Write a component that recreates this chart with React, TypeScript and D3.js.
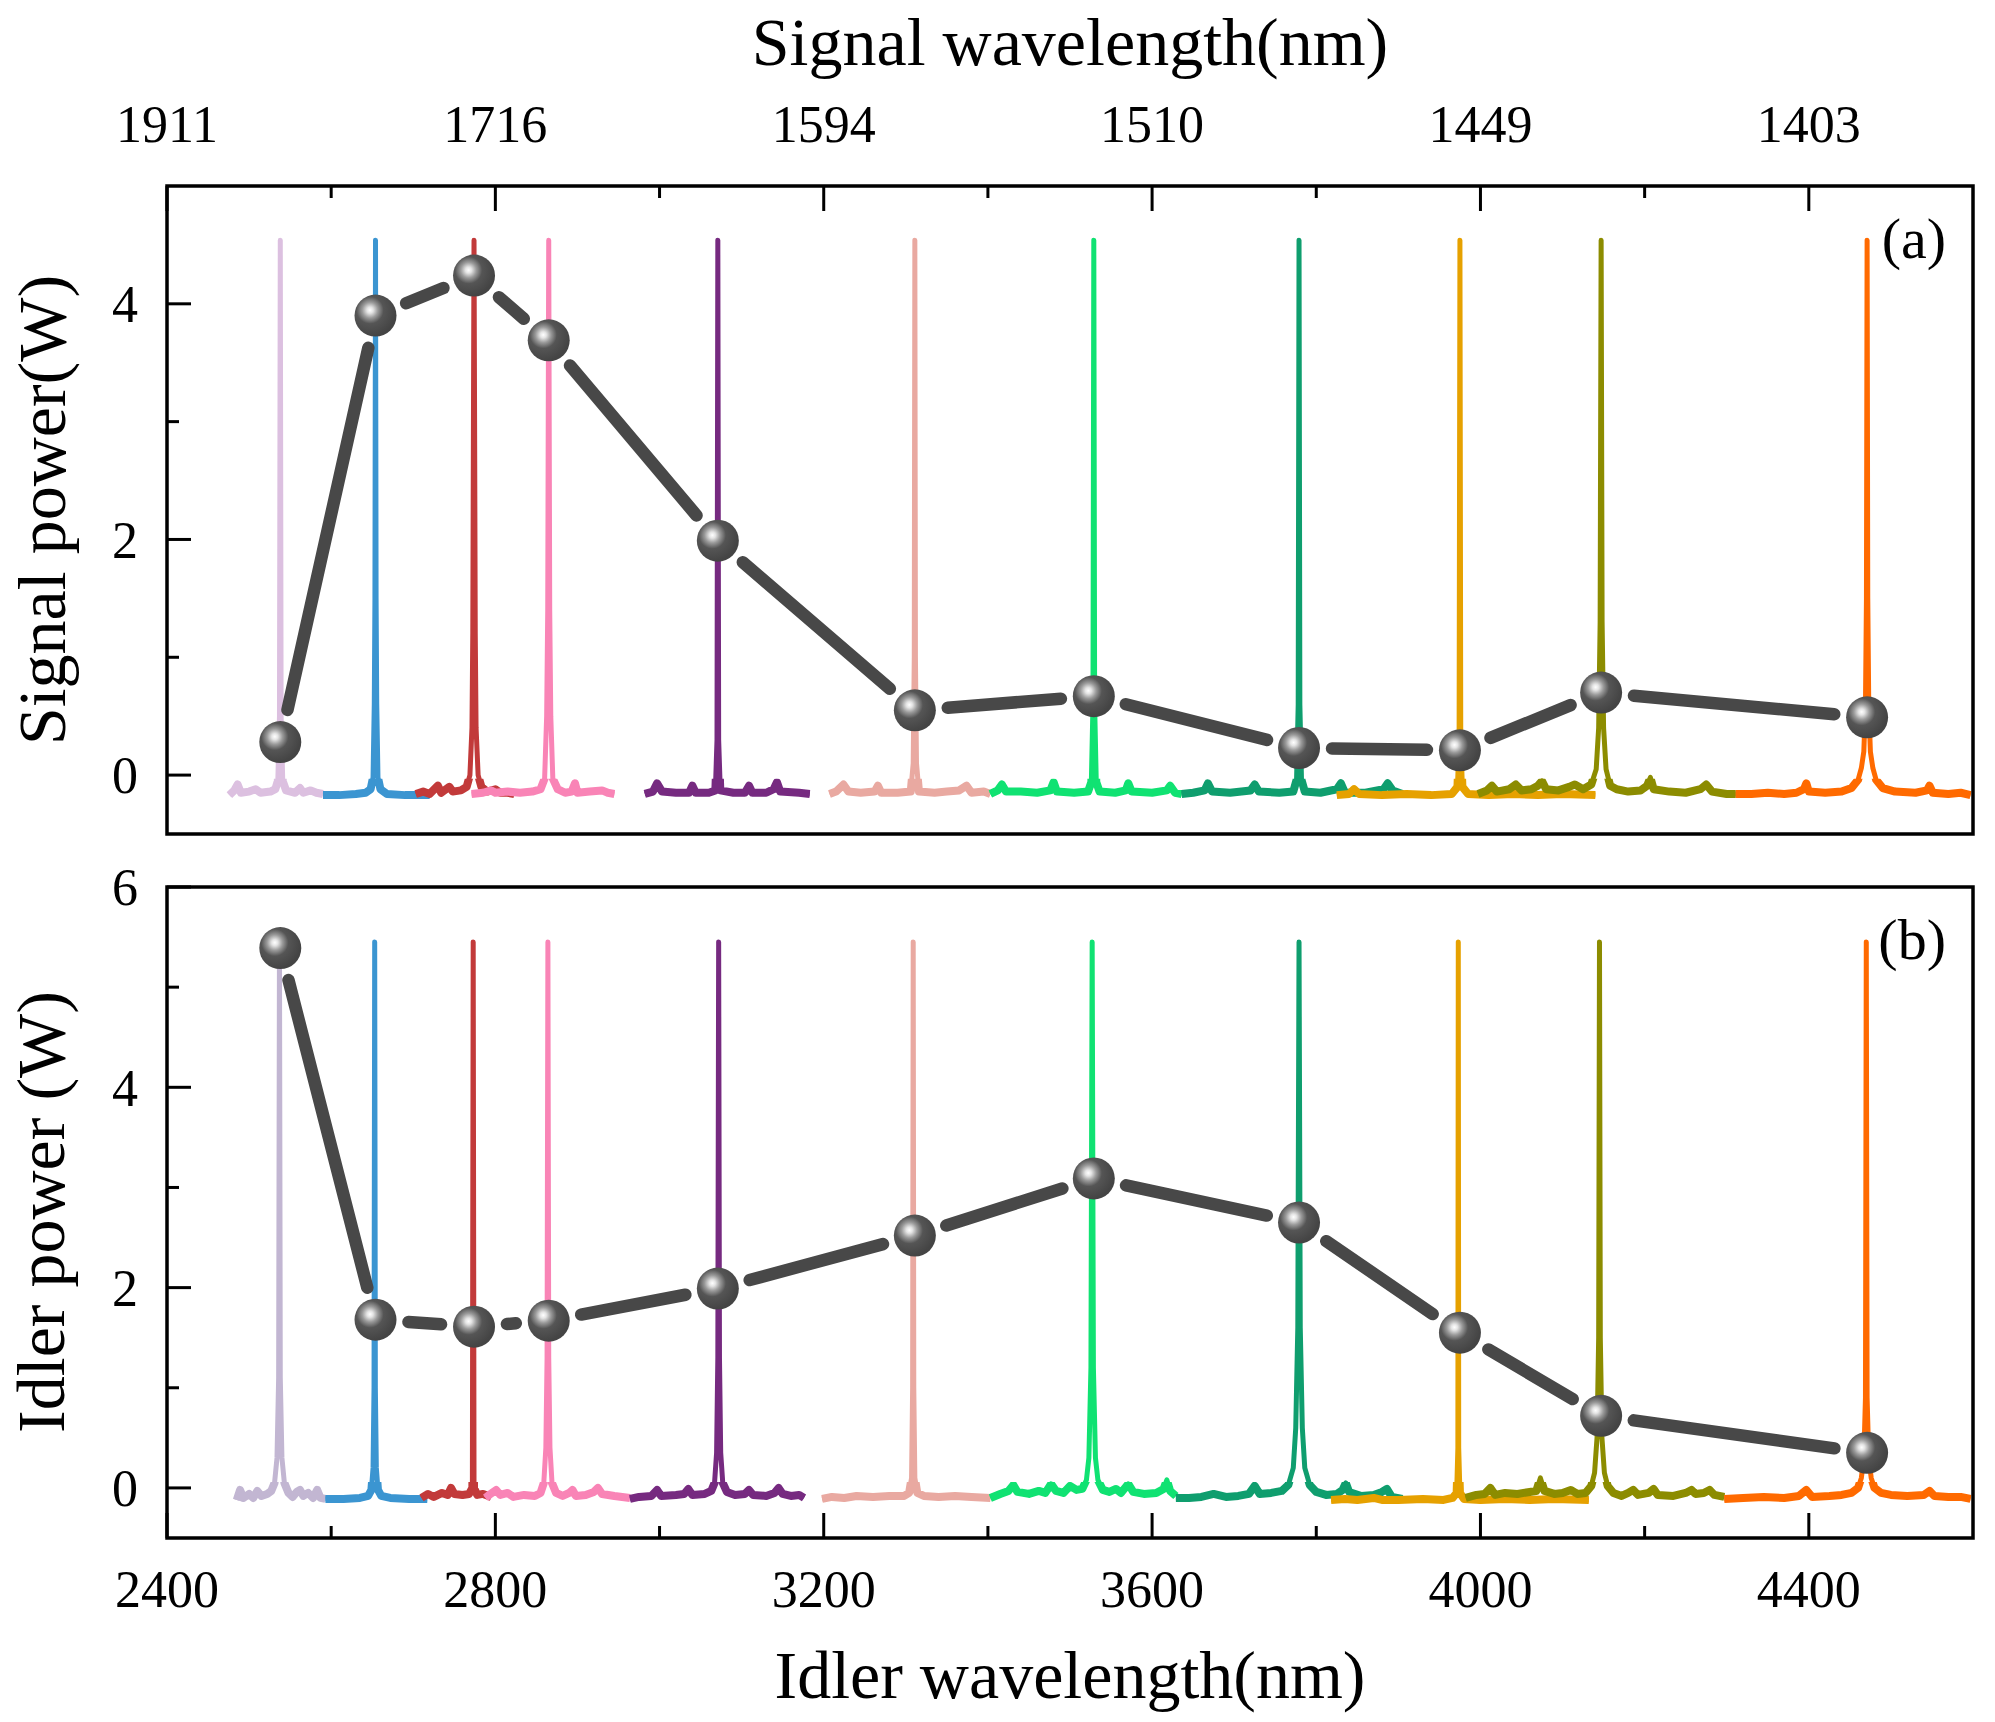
import { useEffect } from 'react'
import * as d3 from 'd3'

const W = 1995
const H = 1722

// idler wavelength of each tuning point (nm), shared by both panels
const idlerNm = [2538, 2654, 2774, 2865, 3071, 3311, 3529, 3779, 3975, 4147, 4471]
const signalPower = [0.28, 3.9, 4.24, 3.69, 1.99, 0.55, 0.67, 0.23, 0.21, 0.7, 0.49]
const idlerPower = [5.39, 1.68, 1.61, 1.67, 1.99, 2.52, 3.09, 2.65, 1.55, 0.72, 0.35]

const majorXTicks = [2400, 2800, 3200, 3600, 4000, 4400]
const minorXTicks = [2600, 3000, 3400, 3800, 4200]
const signalTickLabels = ['1911', '1716', '1594', '1510', '1449', '1403']

const topMajorY = [0, 2, 4]
const topMinorY = [1, 3]
const botMajorY = [0, 2, 4, 6]
const botMinorY = [1, 3, 5]

const colorsTop = ['#dcc0e0', '#3b95d1', '#c23a3a', '#f984b6', '#762a80', '#e9a9a1', '#10e272', '#0f9e6e', '#e6a100', '#8c8c00', '#ff6a00']
const colorsBottom = ['#c2b6d2', '#3b95d1', '#c23a3a', '#f984b6', '#762a80', '#e9a9a1', '#10e272', '#0f9e6e', '#e6a100', '#8c8c00', '#ff6a00']

type Pt = [number, number]

// ---- (a) normalised signal spectra, offset below zero ----
const sA1: Pt[] = [[2476,-0.17],[2482,-0.13],[2486,-0.08],[2490,-0.15],[2500,-0.14],[2508,-0.12],[2514,-0.15],[2526,-0.14],[2532,-0.12],[2535,-0.05],[2537,0.5],[2538,4.54],[2539,0.5],[2541,-0.05],[2545,-0.13],[2556,-0.15],[2562,-0.11],[2566,-0.15],[2575,-0.13],[2582,-0.15],[2590,-0.16]]
const sA2: Pt[] = [[2590,-0.17],[2610,-0.17],[2630,-0.16],[2642,-0.15],[2648,-0.12],[2651,-0.02],[2652.5,0.6],[2653.3,1.5],[2654,4.54],[2654.7,1.5],[2655.5,0.6],[2657,-0.02],[2660,-0.12],[2668,-0.16],[2690,-0.17],[2720,-0.17]]
const sA3: Pt[] = [[2703,-0.16],[2712,-0.14],[2720,-0.16],[2730,-0.09],[2734,-0.15],[2744,-0.1],[2748,-0.14],[2758,-0.13],[2765,-0.1],[2769,0.0],[2771.5,0.4],[2772.5,1.2],[2774,4.54],[2775.5,1.2],[2776.5,0.4],[2779,0.0],[2783,-0.1],[2790,-0.14],[2800,-0.12],[2806,-0.15],[2815,-0.15],[2823,-0.16]]
const sA4: Pt[] = [[2771,-0.16],[2785,-0.15],[2795,-0.13],[2800,-0.15],[2815,-0.14],[2830,-0.15],[2845,-0.14],[2855,-0.12],[2860,-0.03],[2862.5,0.5],[2863.8,1.4],[2865,4.54],[2866.2,1.4],[2867.5,0.5],[2870,-0.03],[2876,-0.12],[2885,-0.15],[2893,-0.14],[2897,-0.07],[2900,-0.15],[2915,-0.14],[2930,-0.13],[2937,-0.15],[2945,-0.16]]
const sA5: Pt[] = [[2982,-0.16],[2992,-0.14],[2997,-0.07],[3003,-0.14],[3020,-0.15],[3036,-0.15],[3040,-0.09],[3044,-0.15],[3060,-0.15],[3068,-0.13],[3070,0.3],[3071,4.54],[3072,0.3],[3074,-0.13],[3090,-0.15],[3104,-0.15],[3109,-0.09],[3113,-0.15],[3130,-0.15],[3139,-0.12],[3143,-0.06],[3147,-0.14],[3170,-0.15],[3183,-0.16]]
const sA6: Pt[] = [[3207,-0.16],[3215,-0.14],[3224,-0.08],[3230,-0.14],[3245,-0.15],[3262,-0.14],[3266,-0.09],[3270,-0.15],[3290,-0.15],[3306,-0.14],[3309,0.1],[3310.3,1.0],[3311,4.54],[3311.7,1.0],[3313,0.1],[3316,-0.14],[3335,-0.15],[3350,-0.14],[3365,-0.13],[3374,-0.09],[3380,-0.15],[3395,-0.14],[3403,-0.16]]
const sA7: Pt[] = [[3403,-0.16],[3412,-0.13],[3417,-0.08],[3422,-0.14],[3440,-0.14],[3460,-0.15],[3476,-0.13],[3480,-0.06],[3484,-0.14],[3505,-0.15],[3522,-0.14],[3526,-0.06],[3528,0.6],[3529,4.54],[3530,0.6],[3532,-0.06],[3536,-0.14],[3555,-0.15],[3568,-0.13],[3571,-0.07],[3575,-0.14],[3600,-0.15],[3618,-0.13],[3622,-0.09],[3628,-0.15],[3636,-0.16]]
const sA8: Pt[] = [[3636,-0.16],[3650,-0.15],[3664,-0.13],[3668,-0.07],[3673,-0.14],[3695,-0.15],[3720,-0.13],[3725,-0.08],[3730,-0.14],[3755,-0.15],[3772,-0.14],[3776,-0.04],[3778,0.6],[3779,4.54],[3780,0.6],[3782,-0.04],[3786,-0.14],[3805,-0.15],[3825,-0.12],[3830,-0.07],[3835,-0.15],[3860,-0.15],[3882,-0.12],[3887,-0.07],[3893,-0.13],[3905,-0.16]]
const sA9: Pt[] = [[3825,-0.17],[3840,-0.16],[3846,-0.12],[3852,-0.16],[3880,-0.17],[3910,-0.16],[3940,-0.17],[3965,-0.16],[3972,-0.1],[3974,0.3],[3975,4.54],[3976,0.3],[3978,-0.1],[3985,-0.16],[4010,-0.17],[4040,-0.16],[4070,-0.17],[4100,-0.16],[4140,-0.17]]
const sA10: Pt[] = [[3997,-0.16],[4008,-0.13],[4014,-0.09],[4020,-0.14],[4035,-0.12],[4043,-0.08],[4050,-0.13],[4062,-0.12],[4070,-0.09],[4075,-0.05],[4080,-0.12],[4095,-0.13],[4108,-0.1],[4115,-0.08],[4125,-0.12],[4135,-0.08],[4141,0.05],[4144,0.4],[4145.8,1.3],[4147,4.54],[4148.2,1.3],[4150,0.4],[4153,0.05],[4158,-0.09],[4166,-0.12],[4180,-0.14],[4195,-0.13],[4203,-0.09],[4207,-0.02],[4211,-0.12],[4230,-0.14],[4250,-0.15],[4268,-0.12],[4275,-0.08],[4282,-0.14],[4300,-0.16],[4311,-0.16]]
const sA11: Pt[] = [[4311,-0.16],[4330,-0.16],[4350,-0.15],[4370,-0.16],[4385,-0.15],[4394,-0.12],[4397,-0.07],[4400,-0.14],[4420,-0.15],[4440,-0.14],[4452,-0.11],[4460,-0.04],[4464,0.06],[4467,0.2],[4469,0.6],[4470.2,1.5],[4471,4.54],[4471.8,1.5],[4473,0.6],[4475,0.2],[4478,0.06],[4482,-0.04],[4490,-0.11],[4505,-0.14],[4530,-0.15],[4544,-0.13],[4547,-0.09],[4551,-0.15],[4570,-0.16],[4585,-0.15],[4597,-0.17]]

// ---- (b) normalised idler spectra ----
const sB1: Pt[] = [[2485,-0.12],[2489,-0.02],[2493,-0.1],[2500,-0.06],[2505,-0.1],[2510,-0.03],[2515,-0.08],[2522,-0.06],[2527,-0.03],[2531,0.05],[2534,0.3],[2536,1.1],[2537,5.45],[2538,1.1],[2540,0.3],[2543,0.05],[2548,-0.05],[2553,-0.09],[2558,-0.04],[2562,-0.02],[2566,-0.08],[2572,-0.05],[2578,-0.1],[2583,-0.02],[2587,-0.1],[2593,-0.11]]
const sB2: Pt[] = [[2593,-0.11],[2615,-0.11],[2635,-0.1],[2645,-0.08],[2649,-0.02],[2651,0.2],[2652.2,1.0],[2653,5.45],[2653.8,1.0],[2655,0.2],[2657,-0.02],[2661,-0.08],[2672,-0.1],[2695,-0.11],[2717,-0.11]]
const sB3: Pt[] = [[2710,-0.1],[2718,-0.06],[2725,-0.09],[2735,-0.05],[2742,-0.07],[2746,0.0],[2750,-0.06],[2760,-0.07],[2768,-0.06],[2772,0.0],[2773,5.45],[2774,0.0],[2778,-0.07],[2785,-0.06],[2795,-0.09]]
const sB4: Pt[] = [[2788,-0.1],[2794,-0.06],[2801,-0.02],[2806,-0.07],[2815,-0.05],[2822,-0.09],[2835,-0.07],[2848,-0.08],[2855,-0.05],[2859,0.05],[2861.5,0.4],[2863,1.3],[2864,5.45],[2865,1.3],[2866.5,0.4],[2869,0.05],[2874,-0.05],[2882,-0.08],[2890,-0.05],[2894,-0.02],[2898,-0.08],[2910,-0.07],[2920,-0.04],[2925,0.0],[2930,-0.06],[2945,-0.08],[2964,-0.1]]
const sB5: Pt[] = [[2964,-0.11],[2975,-0.09],[2990,-0.08],[2997,-0.02],[3002,-0.08],[3020,-0.07],[3030,-0.06],[3035,-0.01],[3040,-0.07],[3055,-0.06],[3063,-0.03],[3067,0.05],[3069.5,0.35],[3071,1.3],[3072,5.45],[3073,1.3],[3074.5,0.35],[3077,0.05],[3082,-0.04],[3092,-0.07],[3104,-0.06],[3109,-0.02],[3114,-0.07],[3130,-0.08],[3140,-0.05],[3145,0.0],[3150,-0.06],[3160,-0.08],[3170,-0.07],[3176,-0.1]]
const sB6: Pt[] = [[3198,-0.11],[3210,-0.09],[3225,-0.1],[3240,-0.08],[3260,-0.09],[3280,-0.08],[3298,-0.08],[3304,-0.05],[3307,0.1],[3308.3,1.0],[3309,5.45],[3309.7,1.0],[3311,0.1],[3314,-0.05],[3322,-0.08],[3340,-0.09],[3360,-0.08],[3380,-0.09],[3403,-0.1]]
const sB7: Pt[] = [[3403,-0.1],[3415,-0.06],[3425,-0.03],[3431,0.03],[3436,-0.04],[3450,-0.06],[3462,-0.03],[3470,-0.05],[3477,0.04],[3483,-0.03],[3492,-0.05],[3500,0.02],[3508,-0.02],[3515,-0.01],[3520,0.08],[3523,0.3],[3525.5,1.2],[3527,5.45],[3528.5,1.2],[3531,0.3],[3534,0.08],[3540,-0.02],[3548,-0.04],[3556,-0.01],[3562,-0.05],[3571,0.04],[3577,-0.04],[3590,-0.06],[3605,-0.05],[3614,-0.01],[3618,0.08],[3622,-0.03],[3629,-0.08]]
const sB8: Pt[] = [[3629,-0.1],[3645,-0.1],[3660,-0.09],[3675,-0.06],[3690,-0.09],[3705,-0.08],[3718,-0.06],[3725,0.02],[3731,-0.06],[3745,-0.05],[3758,-0.03],[3766,0.03],[3772,0.2],[3775,0.6],[3777.5,1.6],[3779,5.45],[3780.5,1.6],[3783,0.6],[3786,0.2],[3792,0.03],[3800,-0.04],[3812,-0.07],[3825,-0.06],[3832,-0.02],[3836,0.05],[3840,-0.04],[3855,-0.08],[3870,-0.07],[3880,-0.04],[3886,-0.01],[3892,-0.09],[3905,-0.11]]
const sB9: Pt[] = [[3818,-0.12],[3835,-0.11],[3850,-0.12],[3870,-0.1],[3880,-0.12],[3900,-0.12],[3930,-0.11],[3955,-0.12],[3966,-0.1],[3971,-0.05],[3972.5,0.4],[3973,5.45],[3973.5,0.4],[3975,-0.05],[3980,-0.11],[4000,-0.12],[4030,-0.11],[4060,-0.12],[4090,-0.11],[4132,-0.12]]
const sB10: Pt[] = [[3982,-0.1],[3995,-0.07],[4005,-0.06],[4012,0.0],[4018,-0.07],[4030,-0.05],[4045,-0.06],[4060,-0.04],[4068,-0.03],[4073,0.1],[4078,-0.03],[4090,-0.06],[4100,-0.05],[4110,-0.02],[4118,-0.06],[4128,-0.05],[4135,0.02],[4139,0.15],[4142,0.5],[4144,1.5],[4145,5.45],[4146,1.5],[4148,0.5],[4151,0.15],[4155,0.02],[4162,-0.05],[4172,-0.08],[4180,-0.05],[4186,-0.02],[4192,-0.07],[4205,-0.05],[4211,-0.01],[4216,-0.07],[4235,-0.08],[4250,-0.05],[4257,-0.02],[4262,-0.06],[4272,-0.05],[4279,-0.02],[4285,-0.07],[4297,-0.09]]
const sB11: Pt[] = [[4297,-0.11],[4320,-0.1],[4345,-0.09],[4370,-0.1],[4388,-0.08],[4397,-0.02],[4404,-0.09],[4425,-0.08],[4440,-0.07],[4452,-0.05],[4460,0.0],[4464,0.1],[4467,0.3],[4469,0.9],[4470,5.45],[4471,0.9],[4473,0.3],[4476,0.1],[4480,0.0],[4488,-0.05],[4500,-0.07],[4520,-0.08],[4540,-0.07],[4547,-0.03],[4553,-0.08],[4570,-0.09],[4585,-0.09],[4597,-0.11]]

const spectraTop = [sA1, sA2, sA3, sA4, sA5, sA6, sA7, sA8, sA9, sA10, sA11]
const spectraBottom = [sB1, sB2, sB3, sB4, sB5, sB6, sB7, sB8, sB9, sB10, sB11]

const FONT = "'Liberation Serif', 'Times New Roman', serif"
const L = 167, R = 1973

const x = d3.scaleLinear().domain([2400, 4600]).range([L, R])

type PanelProps = {
  id: string
  y: d3.ScaleLinear<number, number>
  spectra: Pt[][]
  colors: string[]
  power: number[]
  major: number[]
  minor: number[]
  tag: string
  noiseTop: number // noisy baseline is drawn heavier below this value
  showTopTicks?: boolean
  showBottomTicks?: boolean
}

function Panel({ id, y, spectra, colors, power, major, minor, tag, noiseTop, showTopTicks, showBottomTicks }: PanelProps) {
  const [y0, y1] = y.range() // bottom, top
  const line = d3.line<Pt>().x(d => x(d[0])).y(d => y(d[1]))
  const pts = idlerNm.map((n, i) => [x(n), y(power[i])] as [number, number])
  const trim = 33
  const segs = pts.slice(1).map((p, i) => {
    const a = pts[i]
    const dx = p[0] - a[0], dy = p[1] - a[1]
    const len = Math.hypot(dx, dy)
    const ux = dx / len, uy = dy / len
    return { x1: a[0] + ux * trim, y1: a[1] + uy * trim, x2: p[0] - ux * trim, y2: p[1] - uy * trim, ok: len > 2 * trim }
  })
  return (
    <g>
      <clipPath id={'band' + id}>
        <rect x={L} y={y(noiseTop)} width={R - L} height={y0 - y(noiseTop)} />
      </clipPath>
      {spectra.map((s, i) => (
        <g key={i}>
          <path d={line(s) ?? ''} fill="none" stroke={colors[i]} strokeWidth={5} strokeLinejoin="round" />
          <path d={line(s) ?? ''} fill="none" stroke={colors[i]} strokeWidth={8} strokeLinejoin="round" clipPath={`url(#band${id})`} />
        </g>
      ))}
      {segs.filter(s => s.ok).map((s, i) => (
        <line key={i} x1={s.x1} y1={s.y1} x2={s.x2} y2={s.y2} stroke="#484848" strokeWidth={12.5} strokeLinecap="round" />
      ))}
      {pts.map((p, i) => (
        <circle key={i} cx={p[0]} cy={p[1]} r={21} fill="url(#ball)" />
      ))}
      {/* frame */}
      <rect x={L} y={y1} width={R - L} height={y0 - y1} fill="none" stroke="#000" strokeWidth={3.5} />
      {/* y ticks */}
      {major.map(v => (
        <g key={'M' + v}>
          <line x1={L} x2={L + 24} y1={y(v)} y2={y(v)} stroke="#000" strokeWidth={3} />
          <text x={138} y={y(v)} dy="0.35em" textAnchor="end" fontSize={52}>{v}</text>
        </g>
      ))}
      {minor.map(v => (
        <line key={'m' + v} x1={L} x2={L + 12} y1={y(v)} y2={y(v)} stroke="#000" strokeWidth={3} />
      ))}
      {showTopTicks && majorXTicks.map(t => (
        <line key={'t' + t} x1={x(t)} x2={x(t)} y1={y1} y2={y1 + 25} stroke="#000" strokeWidth={3} />
      ))}
      {showTopTicks && minorXTicks.map(t => (
        <line key={'tm' + t} x1={x(t)} x2={x(t)} y1={y1} y2={y1 + 12} stroke="#000" strokeWidth={3} />
      ))}
      {showBottomTicks && majorXTicks.map(t => (
        <line key={'b' + t} x1={x(t)} x2={x(t)} y1={y0} y2={y0 - 25} stroke="#000" strokeWidth={3} />
      ))}
      {showBottomTicks && minorXTicks.map(t => (
        <line key={'bm' + t} x1={x(t)} x2={x(t)} y1={y0} y2={y0 - 12} stroke="#000" strokeWidth={3} />
      ))}
      <text x={1946} y={y1 + 72} textAnchor="end" fontSize={58}>{tag}</text>
    </g>
  )
}

export default function App() {
  useEffect(() => {
    document.body.style.margin = '0'
  }, [])

  const yTop = d3.scaleLinear().domain([-0.5, 5]).range([834, 186])
  const yBot = d3.scaleLinear().domain([-0.5, 6]).range([1538, 887])

  return (
    <svg width={W} height={H} viewBox={`0 0 ${W} ${H}`} style={{ display: 'block', background: '#fff' }} fontFamily={FONT}>
      <defs>
        <radialGradient id="ball" cx="0.37" cy="0.37" r="0.62" fx="0.37" fy="0.37">
          <stop offset="0" stopColor="#ffffff" />
          <stop offset="0.12" stopColor="#e4e4e4" />
          <stop offset="0.3" stopColor="#9a9a9a" />
          <stop offset="0.52" stopColor="#555555" />
          <stop offset="1" stopColor="#444444" />
        </radialGradient>
      </defs>

      <text x={(L + R) / 2} y={65} textAnchor="middle" fontSize={68}>Signal wavelength(nm)</text>
      {majorXTicks.map((t, i) => (
        <text key={t} x={x(t)} y={142} textAnchor="middle" fontSize={52}>{signalTickLabels[i]}</text>
      ))}

      <Panel id="a" y={yTop} spectra={spectraTop} colors={colorsTop} power={signalPower}
        major={topMajorY} minor={topMinorY} tag="(a)" noiseTop={-0.03} showTopTicks />
      <Panel id="b" y={yBot} spectra={spectraBottom} colors={colorsBottom} power={idlerPower}
        major={botMajorY} minor={botMinorY} tag="(b)" noiseTop={0.06} showBottomTicks />

      {majorXTicks.map(t => (
        <text key={t} x={x(t)} y={1607} textAnchor="middle" fontSize={52}>{t}</text>
      ))}
      <text x={(L + R) / 2} y={1698} textAnchor="middle" fontSize={68}>Idler wavelength(nm)</text>

      <text transform="translate(65,510) rotate(-90)" textAnchor="middle" fontSize={68}>Signal power(W)</text>
      <text transform="translate(64,1212) rotate(-90)" textAnchor="middle" fontSize={68}>Idler power (W)</text>
    </svg>
  )
}
